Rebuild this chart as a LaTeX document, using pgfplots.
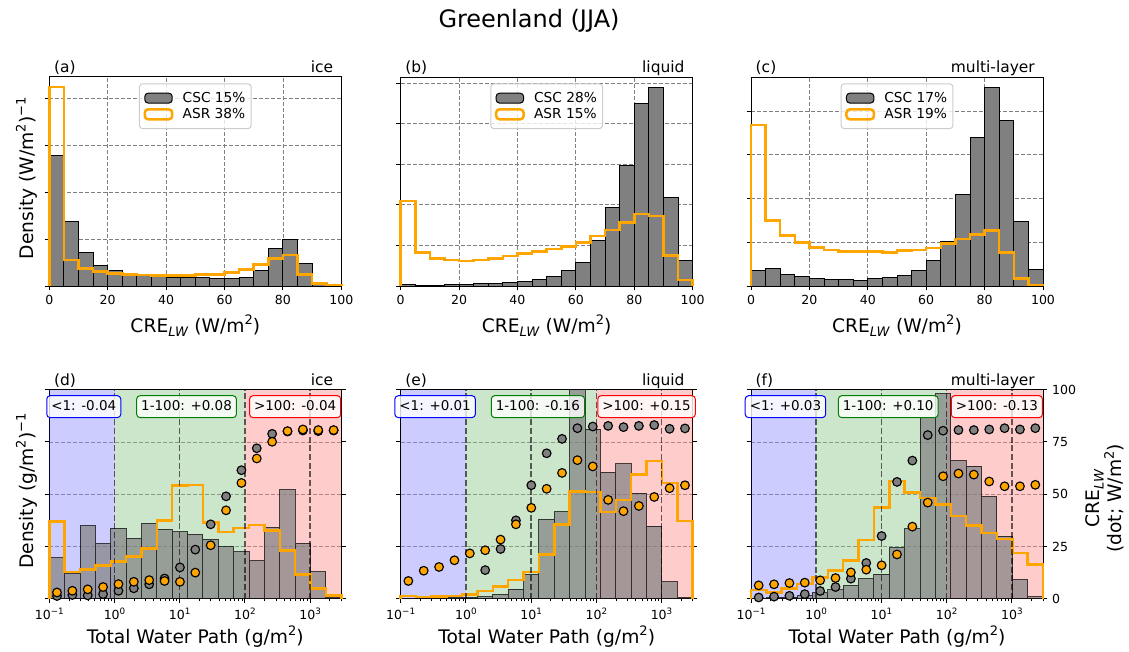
\documentclass[border=0pt]{standalone}
\usepackage{fontspec}
\setmainfont{DejaVu Sans}[ItalicFont={DejaVu Sans Oblique}]
\usepackage{graphicx}
\usepackage{pgfplots}
\usepackage{pgfplotstable}
\pgfplotsset{compat=1.18}

\definecolor{mplorange}{HTML}{FFA500}
\definecolor{mplgray}{HTML}{808080}
\definecolor{mplgreen}{HTML}{008000}
\definecolor{mplblue}{HTML}{0000FF}
\definecolor{mplred}{HTML}{FF0000}

\newcommand\tickfont{\fontsize{9.4}{11}\selectfont}
\newcommand\labfont{\fontsize{14}{16.5}\selectfont}
\newcommand\legfont{\fontsize{10.3}{12}\selectfont}
\newcommand\boxfont{\fontsize{10.1}{12}\selectfont}
\newcommand\panfont{\fontsize{11.6}{13}\selectfont}
\newcommand\titfont{\fontsize{18}{21}\selectfont}
\newcommand\sups[1]{\raisebox{0.42em}{\scalebox{0.7}{#1}}}
\newcommand\subs[1]{\raisebox{-0.22em}{\scalebox{0.7}{#1}}}

% ---------- CRE_LW histograms (bin edges 0..100, width 5) ----------
% columns: e = left bin edge, c = CSC density, a = ASR density
\pgfplotstableread{
e c a
0 nan 0
0 2.79 4.24
5 1.37 0.555
10 0.71 0.377
15 0.44 0.313
20 0.32 0.27
25 0.27 0.25
30 0.235 0.235
35 0.21 0.228
40 0.18 0.228
45 0.18 0.228
50 0.18 0.24
55 0.17 0.25
60 0.17 0.29
65 0.185 0.356
70 0.34 0.46
75 0.80 0.59
80 1.00 0.66
85 0.48 0.25
90 0.08 0.057
95 0.02 0.02
100 0 0
}\histA
\pgfplotstableread{
e c a
0 nan 0
0 0.03 2.10
5 0.02 0.82
10 0.02 0.68
15 0.025 0.64
20 0.04 0.617
25 0.06 0.64
30 0.066 0.68
35 0.09 0.74
40 0.115 0.806
45 0.16 0.847
50 0.23 0.913
55 0.38 0.97
60 0.59 1.07
65 1.11 1.23
70 1.93 1.38
75 2.98 1.57
80 4.49 1.78
85 4.90 1.73
90 2.19 0.757
95 0.625 0.148
100 0 0
}\histB
\pgfplotstableread{
e c a
0 nan 0
0 0.36 3.68
5 0.39 1.50
10 0.27 1.15
15 0.21 0.99
20 0.17 0.885
25 0.145 0.824
30 0.145 0.794
35 0.137 0.794
40 0.17 0.794
45 0.19 0.77
50 0.244 0.81
55 0.36 0.824
60 0.58 0.87
65 1.01 0.977
70 2.09 1.076
75 3.40 1.18
80 4.55 1.27
85 3.79 0.763
90 1.47 0.168
95 0.374 0.023
100 0 0
}\histC

% ---------- total water path histograms (log-spaced bins) ----------
\pgfplotstableread{
e c a
0.1 nan 0
0.1 19.6 36.9
0.172 12.0 12.8
0.296 35.0 14.1
0.5092 26.4 15.8
0.8761 33.7 17.7
1.5074 28.9 20.1
2.5935 36.1 24.1
4.4621 33.2 37.4
7.677 32.1 54.2
13.208 30.8 54.5
22.72 28.4 36.4
39.09 24.8 31.9
67.26 22.4 33.9
115.7 18.2 35.3
199.1 34.2 32.6
342.6 52.2 23.0
589.4 26.5 11.5
1014 12.8 5.0
1745 0.5 1.6
3002 0 0
}\histD
\pgfplotstableread{
e c a
0.1 nan 0
0.1 0.3 1.4
0.172 0.3 0.8
0.296 0.3 1.0
0.5092 0.5 1.3
0.8761 0.6 2.1
1.5074 1.0 3.8
2.5935 2.1 5.8
4.4621 4.6 8.9
7.677 11.7 12.9
13.208 38.0 21.2
22.72 41.7 35.5
39.09 100 51.3
67.26 81.2 51.0
115.7 60.5 41.4
199.1 64.5 47.3
342.6 50.5 59.4
589.4 34.8 66.0
1014 8.1 55.3
1745 0.5 37.1
3002 0 0
}\histE
\pgfplotstableread{
e c a
0.1 nan 0
0.1 0.3 4.2
0.172 0.5 3.0
0.296 0.8 4.8
0.5092 1.4 7.0
0.8761 2.9 10.2
1.5074 4.2 13.4
2.5935 6.4 18.4
4.4621 9.6 28.1
7.677 11.8 43.6
13.208 24.4 56.4
22.72 33.5 50.8
39.09 86.9 48.1
67.26 98.1 45.2
115.7 66.1 39.5
199.1 63.4 35.1
342.6 49.0 31.5
589.4 30.0 28.6
1014 9.1 21.9
1745 1.0 16.3
3002 0 0
}\histF

% mean CRE_LW per TWP bin: m = bin centre, g = CSC, o = ASR
\pgfplotstableread{
m g o
0.1312 1.3 3.0
0.2257 1.8 3.8
0.3882 1.6 4.5
0.6679 2.2 5.6
1.149 3.8 7.0
1.977 5.0 8.1
3.402 6.9 8.9
5.853 9.7 8.5
10.07 15.0 8.1
17.33 23.5 12.5
29.81 35.6 25.6
51.29 49.0 42.3
88.24 61.5 55.4
151.8 72.0 67.1
261.2 78.9 75.1
449.4 80.0 80.2
773.2 80.5 81.0
1330 80.2 80.7
2288 80.5 80.7
}\dotD
\pgfplotstableread{
m g o
0.1312 nan 8.5
0.2257 nan 13.4
0.3882 nan 15.2
0.6679 nan 18.4
1.149 nan 21.7
1.977 13.7 23.2
3.402 23.8 28.3
5.853 37.5 35.6
10.07 54.3 43.5
17.33 69.6 52.6
29.81 76.5 60.2
51.29 81.6 66.3
88.24 82.4 63.3
151.8 82.7 47.3
261.2 82.1 41.9
449.4 82.7 44.4
773.2 83.1 48.7
1330 81.3 52.9
2288 81.5 54.3
}\dotE
\pgfplotstableread{
m g o
0.1312 0.6 6.4
0.2257 1.0 6.9
0.3882 1.4 7.5
0.6679 2.2 7.7
1.149 3.7 8.8
1.977 5.6 9.9
3.402 9.6 12.6
5.853 17.1 13.9
10.07 30.0 16.0
17.33 55.9 21.2
29.81 66.1 34.5
51.29 78.3 46.0
88.24 80.4 58.6
151.8 80.7 59.9
261.2 80.7 59.4
449.4 81.0 56.1
773.2 81.6 53.8
1330 81.0 53.8
2288 81.6 54.5
}\dotF

\tikzset{
  regbox/.style={font=\boxfont, fill=white, fill opacity=0.8, text opacity=1,
    rounded corners=2.5pt, line width=0.75pt, inner xsep=3.4pt, inner ysep=3.2pt,
    text height=0.76em, text depth=0.24em, anchor=center},
  panlab/.style={font=\panfont, yshift=3.4pt},
}

\pgfplotsset{
  panel/.style={
    scale only axis, width=219pt, height=156.75pt, anchor=south west,
    clip=false,
    axis line style={black, line width=0.75pt},
    tick align=outside,
    major tick length=3.3pt, minor tick length=1.9pt,
    tick style={black, line width=0.75pt},
    minor tick style={line width=0.6pt},
    tick label style={font=\tickfont},
    ylabel style={at={(axis description cs:-0.054,0.515)}, anchor=base, font=\labfont},
    /pgf/number format/assume math mode=true,
  },
  toprow/.style={
    panel, xmin=0, xmax=100, ymin=0,
    xtick={0,20,40,60,80,100},
    xtick pos=left, ytick pos=left, yticklabels={},
    grid=major,
    major grid style={dash pattern=on 3pt off 1.5pt, black!50, line width=0.6pt},
    xlabel={CRE\subs{\textit{LW}} (W/m\sups{2})},
    xlabel style={at={(axis description cs:0.5,0)}, anchor=base, yshift=-35pt, font=\labfont},
    legend cell align=left,
    legend style={at={(0.5,0.97)}, anchor=north, font=\legfont,
      draw=black!20, line width=0.75pt, rounded corners=2.5pt,
      fill=white, fill opacity=0.8, text opacity=1, draw opacity=1,
      inner xsep=3.1pt, inner ysep=5pt, row sep=0.6pt,
      nodes={inner sep=1.2pt},
      /tikz/every odd column/.append style={column sep=5.7pt}},
  },
  botrow/.style={
    panel, xmin=0.1, xmax=3002, ymin=0, ymax=100,
    xtick={0.1,1,10,100,1000},
    xticklabels={10\sups{−1},10\sups{0},10\sups{1},10\sups{2},10\sups{3}},
    minor xtick={0.2,0.3,0.4,0.5,0.6,0.7,0.8,0.9,2,3,4,5,6,7,8,9,20,30,40,50,60,70,80,90,200,300,400,500,600,700,800,900,2000,3000},
    ytick={0,25,50,75,100},
    xtick pos=left, ytick pos=both,
    ymajorgrids,
    major grid style={dash pattern=on 3pt off 1.5pt, black!35, line width=0.6pt},
    xlabel={Total Water Path (g/m\sups{2})},
    xlabel style={at={(axis description cs:0.5,0)}, anchor=base, yshift=-33.5pt, font=\labfont},
  },
  cscbar/.style={ybar interval, fill=mplgray, draw=black, line width=0.75pt,
    legend image code/.code={\draw[fill=mplgray, draw=black, line width=0.75pt, fill opacity=1] (0pt,-3.7pt) rectangle (20.6pt,3.7pt);}},
  asrstep/.style={const plot, draw=mplorange, line width=1.875pt,
    legend image code/.code={\draw[mplorange, line width=1.875pt, fill=none] (0pt,-3.7pt) rectangle (20.6pt,3.7pt);}},
  twpbar/.style={ybar interval, fill=mplgray, fill opacity=0.7, draw=black, draw opacity=0.7, line width=0.75pt},
  decade/.style={black, opacity=0.6, line width=1.1pt, dash pattern=on 4.5pt off 2pt, forget plot},
  cscdot/.style={only marks, mark=*, mark size=3.25pt, mark options={fill=mplgray, draw=black, line width=0.85pt}},
  asrdot/.style={only marks, mark=*, mark size=3.25pt, mark options={fill=mplorange, draw=black, line width=0.85pt}},
}

% shaded TWP regimes, decade markers, bars, steps and dots of one lower panel
\newcommand\twppanel[2]{%
  \addplot[draw=none, fill=mplblue, fill opacity=0.2, forget plot] coordinates {(0.1,100) (1,100)} \closedcycle;
  \addplot[draw=none, fill=mplgreen, fill opacity=0.2, forget plot] coordinates {(1,100) (100,100)} \closedcycle;
  \addplot[draw=none, fill=mplred, fill opacity=0.2, forget plot] coordinates {(100,100) (3002,100)} \closedcycle;
  \addplot[twpbar] table[x=e, y=c] {#1};
  \addplot[asrstep] table[x=e, y=a] {#1};
  \addplot[decade] coordinates {(1,0) (1,100)};
  \addplot[decade] coordinates {(10,0) (10,100)};
  \addplot[decade] coordinates {(100,0) (100,100)};
  \addplot[decade] coordinates {(1000,0) (1000,100)};
  \addplot[cscdot] table[x=m, y=g] {#2};
  \addplot[asrdot] table[x=m, y=o] {#2};
}

\begin{document}
\begin{tikzpicture}
\useasboundingbox (0,0) rectangle (846.75pt,488.25pt);
\node[font=\titfont, anchor=base] at (396.75pt,467.8pt) {Greenland (JJA)};

% (a) ice
\begin{axis}[toprow, at={(36.98pt,273.75pt)}, ymax=4.456, ytick={0,1,2,3,4},
  ylabel={Density (W/m\sups{2})\sups{−1}}]
  \addplot[cscbar] table[x=e, y=c] {\histA};
  \addlegendentry{CSC 15\%}
  \addplot[asrstep] table[x=e, y=a] {\histA};
  \addlegendentry{ASR 38\%}
  \node[panlab, anchor=base west] at (rel axis cs:0,1) {(a)};
  \node[panlab, anchor=base east, xshift=-2.6pt] at (rel axis cs:1,1) {ice};
\end{axis}

% (b) liquid
\begin{axis}[toprow, at={(300.5pt,273.75pt)}, ymax=5.15, ytick={0,1,2,3,4,5}]
  \addplot[cscbar] table[x=e, y=c] {\histB};
  \addlegendentry{CSC 28\%}
  \addplot[asrstep] table[x=e, y=a] {\histB};
  \addlegendentry{ASR 15\%}
  \node[panlab, anchor=base west] at (rel axis cs:0,1) {(b)};
  \node[panlab, anchor=base east, xshift=-2.6pt] at (rel axis cs:1,1) {liquid};
\end{axis}

% (c) multi-layer
\begin{axis}[toprow, at={(563.25pt,273.75pt)}, ymax=4.78, ytick={0,1,2,3,4}]
  \addplot[cscbar] table[x=e, y=c] {\histC};
  \addlegendentry{CSC 17\%}
  \addplot[asrstep] table[x=e, y=a] {\histC};
  \addlegendentry{ASR 19\%}
  \node[panlab, anchor=base west] at (rel axis cs:0,1) {(c)};
  \node[panlab, anchor=base east, xshift=-2.6pt] at (rel axis cs:1,1) {multi-layer};
\end{axis}

% (d) ice
\begin{semilogxaxis}[botrow, at={(36.98pt,39.2pt)}, yticklabels={},
  ylabel={Density (g/m\sups{2})\sups{−1}}]
  \twppanel{\histD}{\dotD}
  \node[regbox, draw=mplblue] at (rel axis cs:0.118,0.919) {<1: -0.04};
  \node[regbox, draw=mplgreen] at (rel axis cs:0.47,0.919) {1-100: +0.08};
  \node[regbox, draw=mplred] at (rel axis cs:0.842,0.919) {>100: -0.04};
  \node[panlab, anchor=base west] at (rel axis cs:0,1) {(d)};
  \node[panlab, anchor=base east, xshift=-2.6pt] at (rel axis cs:1,1) {ice};
\end{semilogxaxis}

% (e) liquid
\begin{semilogxaxis}[botrow, at={(300.5pt,39.2pt)}, yticklabels={}]
  \twppanel{\histE}{\dotE}
  \node[regbox, draw=mplblue] at (rel axis cs:0.118,0.919) {<1: +0.01};
  \node[regbox, draw=mplgreen] at (rel axis cs:0.47,0.919) {1-100: -0.16};
  \node[regbox, draw=mplred] at (rel axis cs:0.842,0.919) {>100: +0.15};
  \node[panlab, anchor=base west] at (rel axis cs:0,1) {(e)};
  \node[panlab, anchor=base east, xshift=-2.6pt] at (rel axis cs:1,1) {liquid};
\end{semilogxaxis}

% (f) multi-layer, CRE_LW scale on the right
\begin{semilogxaxis}[botrow, at={(563.25pt,39.2pt)}, yticklabel pos=right]
  \twppanel{\histF}{\dotF}
  \node[regbox, draw=mplblue] at (rel axis cs:0.118,0.919) {<1: +0.03};
  \node[regbox, draw=mplgreen] at (rel axis cs:0.47,0.919) {1-100: +0.10};
  \node[regbox, draw=mplred] at (rel axis cs:0.842,0.919) {>100: -0.13};
  \node[panlab, anchor=base west] at (rel axis cs:0,1) {(f)};
  \node[panlab, anchor=base east, xshift=-2.6pt] at (rel axis cs:1,1) {multi-layer};
  \node[font=\labfont, rotate=90, align=center, anchor=center] at (axis description cs:1.212,0.48)
    {CRE\subs{\textit{LW}}\\(dot; W/m\sups{2})};
\end{semilogxaxis}
\end{tikzpicture}
\end{document}
